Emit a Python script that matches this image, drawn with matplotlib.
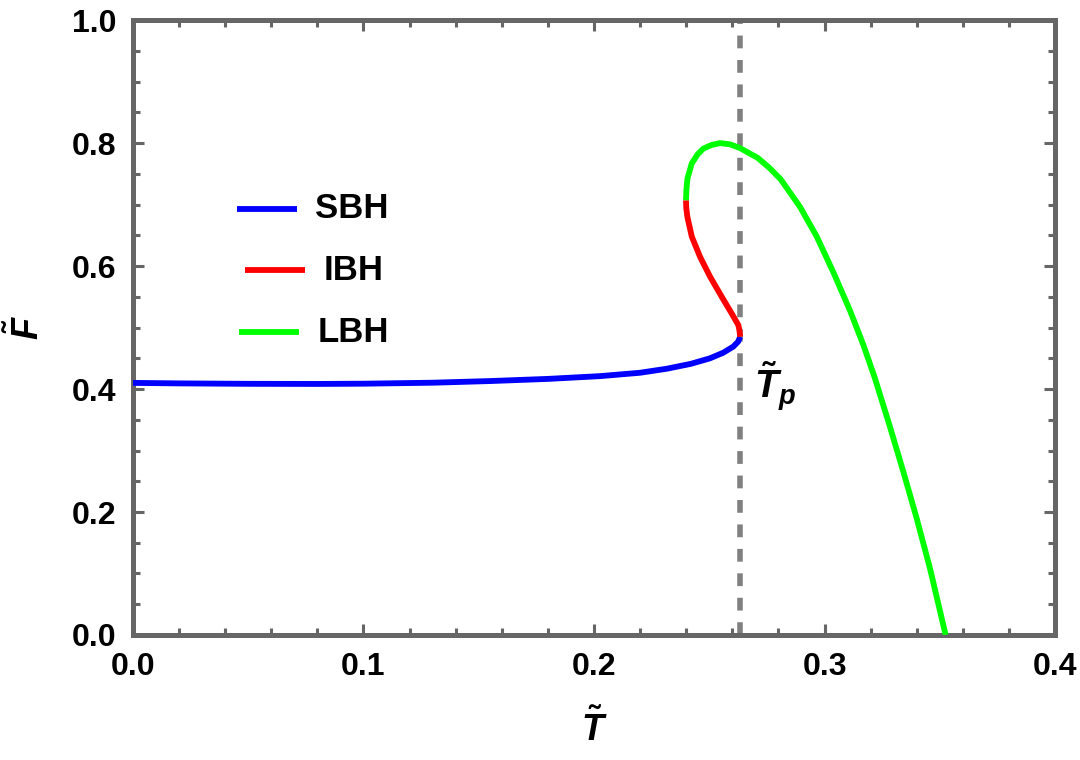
import matplotlib
matplotlib.use("Agg")
import matplotlib.pyplot as plt
from matplotlib.ticker import MultipleLocator

# =================================

plt.rcParams["font.family"] = ["Liberation Sans", "DejaVu Sans"]
plt.rcParams["font.weight"] = "bold"
plt.rcParams["mathtext.fontset"] = "custom"
plt.rcParams["mathtext.rm"] = "Liberation Sans:bold"
plt.rcParams["mathtext.it"] = "Liberation Sans:italic:bold"
plt.rcParams["mathtext.bf"] = "Liberation Sans:bold"

# ================================= data

T_p = 0.2633

sbh_T = [0.0, 0.02, 0.05, 0.08, 0.10, 0.13, 0.155, 0.18, 0.2026, 0.22, 0.2315,
         0.242, 0.2503, 0.2560, 0.2604, 0.2625, 0.2634]
sbh_F = [0.410, 0.4092, 0.4085, 0.4083, 0.4087, 0.4103, 0.413, 0.4165, 0.421,
         0.4265, 0.433, 0.441, 0.450, 0.459, 0.469, 0.477, 0.485]

ibh_T = [0.2634, 0.2631, 0.2626, 0.2597, 0.2554, 0.2503, 0.2460, 0.2424,
         0.2405, 0.2400, 0.2399]
ibh_F = [0.485, 0.495, 0.504, 0.523, 0.550, 0.583, 0.615, 0.648,
         0.680, 0.695, 0.707]

lbh_T = [0.2399, 0.2401, 0.2405, 0.2424, 0.2450, 0.2474, 0.2510, 0.2547,
         0.2590, 0.2633, 0.2710, 0.2760, 0.2810, 0.2894, 0.2966, 0.3038,
         0.3111, 0.3169, 0.3218, 0.3284, 0.3342, 0.3400, 0.3458, 0.3525]
lbh_F = [0.707, 0.725, 0.742, 0.767, 0.782, 0.791, 0.797, 0.800,
         0.798, 0.792, 0.776, 0.760, 0.741, 0.696, 0.648, 0.590,
         0.527, 0.471, 0.418, 0.338, 0.265, 0.189, 0.107, 0.0]

x_ticks = [0.0, 0.1, 0.2, 0.3, 0.4]
y_ticks = [0.0, 0.2, 0.4, 0.6, 0.8, 1.0]

# =================================

fig = plt.figure(figsize=(10.8, 7.6), dpi=100)
ax = fig.add_axes([0.123, 0.1645, 0.854, 0.809])

ax.axvline(T_p, color="#808080", lw=4, dashes=(2.3, 2.1), zorder=1)

style = dict(lw=4.2, solid_capstyle="butt", solid_joinstyle="round", zorder=3)
ax.plot(sbh_T, sbh_F, color="#0000ff", **style)
ax.plot(ibh_T, ibh_F, color="#ff0000", **style)
ax.plot(lbh_T, lbh_F, color="#00ff00", **style)

# legend, drawn by hand (staggered like the original)
leg = [("SBH", "#0000ff", 0.113, 0.693), ("IBH", "#ff0000", 0.122, 0.5935),
       ("LBH", "#00ff00", 0.115, 0.4927)]
for name, c, x0, y0 in leg:
    ax.plot([x0, x0 + 0.065], [y0, y0], color=c, lw=4.2,
            transform=ax.transAxes, solid_capstyle="butt")
    ax.text(x0 + 0.085, y0, name, transform=ax.transAxes, fontsize=25,
            fontweight="bold", va="center", ha="left")

ax.text(0.2695, 0.405, r"$\tilde{T}_p$", fontsize=28, ha="left", va="center")

ax.set_xlim(0, 0.4)
ax.set_ylim(0, 1.0)
ax.set_xticks(x_ticks)
ax.set_yticks(y_ticks)
ax.set_xticklabels(["%.1f" % v for v in x_ticks])
ax.set_yticklabels(["%.1f" % v for v in y_ticks])
ax.xaxis.set_minor_locator(MultipleLocator(0.02))
ax.yaxis.set_minor_locator(MultipleLocator(0.05))

for s in ax.spines.values():
    s.set_color("#666666")
    s.set_linewidth(3.6)
ax.tick_params(which="both", direction="in", top=True, right=True,
               color="#666666", width=2.2, labelsize=23, pad=12)
ax.tick_params(which="major", length=8)
ax.tick_params(which="minor", length=5)
for lab in ax.get_xticklabels() + ax.get_yticklabels():
    lab.set_fontweight("bold")

ax.set_xlabel(r"$\tilde{T}$", fontsize=26, labelpad=20)
ax.set_ylabel(r"$\tilde{F}$", fontsize=26, labelpad=18)

plt.savefig("out.png")
plt.close()
